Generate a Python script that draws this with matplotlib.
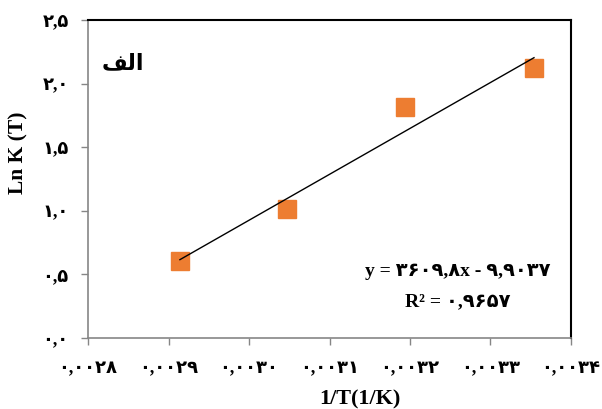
import numpy as np
import matplotlib.pyplot as plt
from matplotlib.ticker import FixedLocator, FixedFormatter

# Van't Hoff data: 1/T against ln K at four temperatures
temps_k = [343.15, 328.15, 313.15, 298.15]
inv_t = [1.0 / t for t in temps_k]
ln_k = [0.609, 1.014, 1.816, 2.123]

# fitted trend line reported on the chart
slope = 3609.8
intercept = -9.9037

x_ticks = [0.0028, 0.0029, 0.0030, 0.0031, 0.0032, 0.0033, 0.0034]
x_tick_labels = ['۰,۰۰۲۸', '۰,۰۰۲۹', '۰,۰۰۳۰', '۰,۰۰۳۱', '۰,۰۰۳۲', '۰,۰۰۳۳', '۰,۰۰۳۴']
y_ticks = [0.0, 0.5, 1.0, 1.5, 2.0, 2.5]
y_tick_labels = ['۰,۰', '۰,۵', '۱,۰', '۱,۵', '۲,۰', '۲,۵']

eq_text = 'y = ۳۶۰۹,۸x - ۹,۹۰۳۷'
r2_text = 'R² = ۰,۹۶۵۷'
# "الف" written with presentation forms, laid out left to right
panel_text = '\uFED2\uFEDF\uFE8D'

fam = ['Liberation Serif', 'DejaVu Sans']
plt.rcParams['font.family'] = fam
plt.rcParams['font.weight'] = 'bold'

fig = plt.figure(figsize=(6.02, 4.09), dpi=100)
ax = fig.add_axes([0.1462, 0.1736, 0.8023, 0.7775])

ax.plot(inv_t, ln_k, 's', color='#ED7D31', markersize=13.5, zorder=2)
xs = np.array([inv_t[0], inv_t[-1]])
ax.plot(xs, slope * xs + intercept, color='black', linewidth=1.0, zorder=3)

ax.set_xlim(0.0028, 0.0034)
ax.set_ylim(0.0, 2.5)
ax.xaxis.set_major_locator(FixedLocator(x_ticks))
ax.xaxis.set_major_formatter(FixedFormatter(x_tick_labels))
ax.yaxis.set_major_locator(FixedLocator(y_ticks))
ax.yaxis.set_major_formatter(FixedFormatter(y_tick_labels))

for side in ['left', 'bottom']:
    ax.spines[side].set_color('#868686')
    ax.spines[side].set_linewidth(1.2)
for side in ['top', 'right']:
    ax.spines[side].set_color('black')
    ax.spines[side].set_linewidth(1.5)

ax.tick_params(axis='both', direction='out', length=5, width=1, color='#868686',
               labelsize=13)
ax.tick_params(axis='x', pad=11)
ax.tick_params(axis='y', pad=9)

ax.set_xlabel('1/T(1/K)', fontsize=16, fontweight='bold')
ax.xaxis.set_label_coords(0.563, -0.163)
ax.set_ylabel('Ln K (T)', fontsize=15.5, fontweight='bold')
ax.yaxis.set_label_coords(-0.124, 0.582)

ax.text(0.072, 0.86, panel_text, transform=ax.transAxes, fontsize=16,
        fontweight='bold', ha='center', va='center')
ax.text(0.765, 0.21, eq_text, transform=ax.transAxes, fontsize=14,
        fontweight='bold', ha='center', va='center')
ax.text(0.765, 0.115, r2_text, transform=ax.transAxes, fontsize=14,
        fontweight='bold', ha='center', va='center')

fig.savefig('out.png', dpi=100)
